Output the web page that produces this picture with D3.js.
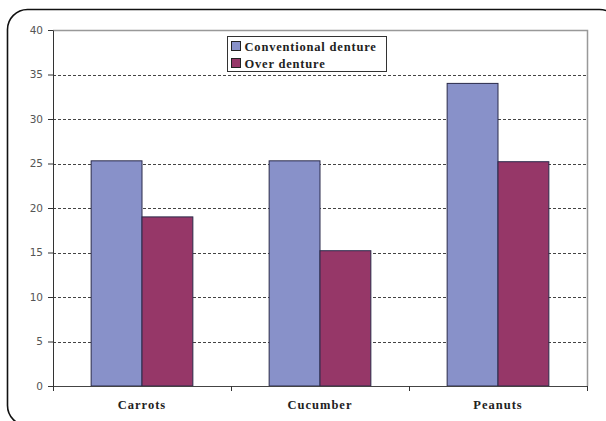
<!DOCTYPE html>
<html lang="en">
<head>
<meta charset="utf-8">
<title>Denture chewing chart</title>
<script src="https://d3js.org/d3.v7.min.js"></script>
<style>
	body { margin: 0; background: #fff; }
	svg { display: block; }
</style>
</head>
<body>
<div id="chart"></div>
<script>
	var categories = ["Carrots", "Cucumber", "Peanuts"];
	var seriesNames = ["Conventional denture", "Over denture"];
	var conventional = [25.3, 25.3, 34];
	var overDenture = [19, 15.2, 25.2];
	var yTicks = [0, 5, 10, 15, 20, 25, 30, 35, 40];
	var colors = ["#8891c9", "#963768"];

	var W = 606, H = 421;
	var margin = {top: 30, right: 19, bottom: 35, left: 53},
		width = W - margin.left - margin.right,
		height = H - margin.top - margin.bottom;

	var serif = "'Liberation Serif', 'DejaVu Serif', serif";

	var svg = d3.select("#chart").append("svg")
		.attr("width", W)
		.attr("height", H);

	// outer rounded frame
	svg.append("rect")
		.attr("x", 7.5).attr("y", 9.5)
		.attr("width", 612).attr("height", 416)
		.attr("rx", 20).attr("ry", 20)
		.attr("fill", "none")
		.attr("stroke", "#111")
		.attr("stroke-width", 1.6);

	var g = svg.append("g")
		.attr("transform", "translate(" + margin.left + "," + margin.top + ")");

	var x = d3.scaleBand().domain(categories).range([0, width]);
	var x1 = d3.scaleBand().domain(seriesNames)
		.range([0, x.bandwidth() * 2 / 3.5])
		.padding(0);
	var y = d3.scaleLinear().domain([0, 40]).range([height, 0]);

	// gridlines
	g.selectAll(".grid")
		.data(yTicks.filter(function(d) { return d > 0 && d < 40; }))
		.enter().append("line")
		.attr("x1", 0).attr("x2", width)
		.attr("y1", function(d) { return Math.round(y(d)) + 0.5; })
		.attr("y2", function(d) { return Math.round(y(d)) + 0.5; })
		.attr("stroke", "#444")
		.attr("stroke-dasharray", "3,2");

	// plot border top/right
	g.append("path")
		.attr("d", "M0," + (Math.round(y(40)) + 0.5) + "H" + (width + 0.5) + "V" + height)
		.attr("fill", "none")
		.attr("stroke", "#999")
		.attr("stroke-width", 1.5);

	var data = categories.map(function(c, i) {
		return {cat: c, vals: [conventional[i], overDenture[i]]};
	});

	var groupOffset = (x.bandwidth() - x1.range()[1]) / 2;

	g.selectAll(".cat")
		.data(data)
		.enter().append("g")
		.attr("transform", function(d) { return "translate(" + (x(d.cat) + groupOffset) + ",0)"; })
		.selectAll("rect")
		.data(function(d) { return d.vals.map(function(v, j) { return {s: seriesNames[j], v: v, j: j}; }); })
		.enter().append("rect")
		.attr("x", function(d) { return x1(d.s); })
		.attr("y", function(d) { return y(d.v); })
		.attr("width", x1.bandwidth())
		.attr("height", function(d) { return height - y(d.v); })
		.attr("fill", function(d) { return colors[d.j]; })
		.attr("stroke", "#2a2a4a")
		.attr("stroke-width", 1);

	// y axis
	var yAxis = g.append("g")
		.call(d3.axisLeft(y).tickValues(yTicks).tickSize(5).tickSizeOuter(0));
	yAxis.select(".domain").attr("stroke", "#333");
	yAxis.selectAll(".tick line").attr("stroke", "#333");
	yAxis.selectAll(".tick text")
		.attr("fill", "#555")
		.attr("font-family", "'DejaVu Sans', Verdana, sans-serif")
		.attr("font-size", 10.5)
		.attr("x", -10);

	// x axis
	var xAxis = g.append("g")
		.attr("transform", "translate(0," + height + ")")
		.call(d3.axisBottom(x).tickSize(0).tickSizeOuter(0));
	xAxis.select(".domain").attr("stroke", "#444").attr("stroke-width", 1.2);
	xAxis.selectAll(".tick text")
		.attr("y", 14)
		.attr("fill", "#222")
		.attr("font-family", serif)
		.attr("font-weight", "bold")
		.attr("font-size", 12.5)
		.attr("letter-spacing", 1);

	// category boundary ticks
	g.selectAll(".xb")
		.data(d3.range(categories.length + 1))
		.enter().append("line")
		.attr("x1", function(i) { return i * x.step() + 0.5; })
		.attr("x2", function(i) { return i * x.step() + 0.5; })
		.attr("y1", height)
		.attr("y2", height + 5)
		.attr("stroke", "#333");

	// legend
	var legend = svg.append("g").attr("transform", "translate(227.5,36.5)");
	legend.append("rect")
		.attr("width", 159).attr("height", 35)
		.attr("fill", "#fff")
		.attr("stroke", "#333");
	var items = legend.selectAll(".li")
		.data(seriesNames)
		.enter().append("g")
		.attr("transform", function(d, i) { return "translate(4," + (5 + i * 17) + ")"; });
	items.append("rect")
		.attr("width", 9).attr("height", 9)
		.attr("fill", function(d, i) { return colors[i]; })
		.attr("stroke", "#222");
	items.append("text")
		.attr("x", 13).attr("y", 9)
		.attr("font-family", serif)
		.attr("font-weight", "bold")
		.attr("font-size", 12.5)
		.attr("letter-spacing", 0.8)
		.attr("fill", "#222")
		.text(function(d) { return d; });
</script>
</body>
</html>
